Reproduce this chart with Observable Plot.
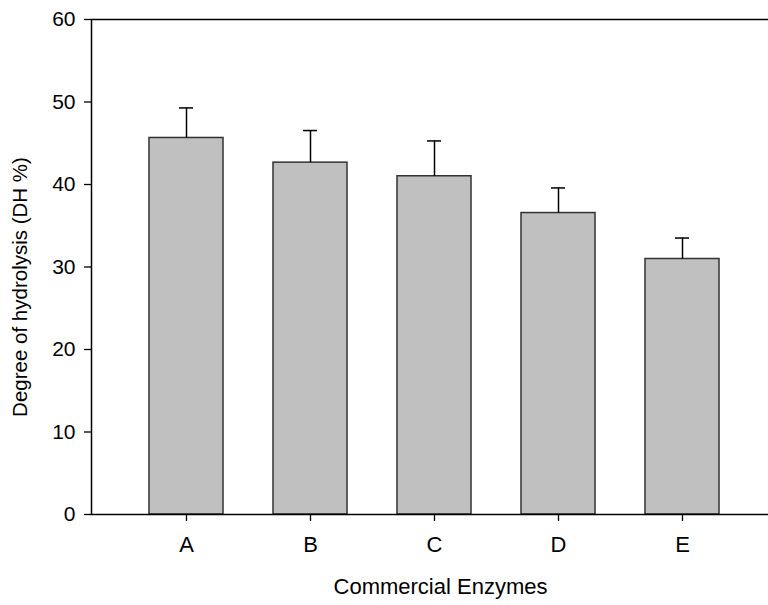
<!DOCTYPE html>
<html>
<head>
<meta charset="utf-8">
<script src="https://cdn.jsdelivr.net/npm/d3@7"></script>
<script src="https://cdn.jsdelivr.net/npm/@observablehq/plot@0.6"></script>
<style>
  html, body { margin: 0; padding: 0; background: #fff; overflow: hidden; width: 768px; height: 605px; }
  #chart { position: absolute; left: 0; top: 0; width: 780px; }
  #chart svg { max-width: none !important; }
</style>
</head>
<body>
<div id="chart"></div>
<script>
const categories = ["A", "B", "C", "D", "E"];
const means = [45.64, 42.65, 41.0, 36.54, 30.97];
const errors = [3.64, 3.89, 4.28, 3.04, 2.54];
const yTicks = [0, 10, 20, 30, 40, 50, 60];
const xLabel = "Commercial Enzymes";
const yLabel = "Degree of hydrolysis (DH %)";

const data = categories.map((c, i) => ({cat: c, mean: means[i], upper: means[i] + errors[i]}));

const font = "'Liberation Sans', Arial, sans-serif";

const chart = Plot.plot({
  width: 780,
  height: 605,
  marginLeft: 91,
  marginRight: 3,
  marginTop: 19,
  marginBottom: 91,
  style: {fontFamily: font, fontSize: "21px", background: "#fff", color: "#000", maxWidth: "none"},
  x: {domain: categories, paddingInner: 0.4, paddingOuter: 0.453, label: null},
  y: {domain: [0, 60], label: null},
  marks: [
    Plot.barY(data, {x: "cat", y: "mean", fill: "#c0c0c0", stroke: "#333", strokeWidth: 1.5}),
    Plot.ruleX(data, {x: "cat", y1: "mean", y2: "upper", stroke: "#000", strokeWidth: 1.5}),
    Plot.tickY(data, {x: "cat", y: "upper", stroke: "#000", strokeWidth: 1.5, insetLeft: 30, insetRight: 30}),
    Plot.frame({stroke: "#000", strokeWidth: 1.5}),
    Plot.axisY({ticks: yTicks, tickSize: 7, tickPadding: 9, fontSize: 21, label: null, tickFormat: d => String(d), strokeWidth: 1.3}),
    Plot.axisX({tickSize: 7, tickPadding: 15, fontSize: 22, label: null, strokeWidth: 1.3}),
    Plot.text([yLabel], {frameAnchor: "left", textAnchor: "middle", rotate: -90, dx: -71, dy: 20, fontSize: 20.5, fill: "#000"}),
    Plot.text([xLabel], {frameAnchor: "bottom", dy: 79, dx: 6, fontSize: 22, fill: "#000"})
  ]
});
document.getElementById("chart").appendChild(chart);
</script>
</body>
</html>
